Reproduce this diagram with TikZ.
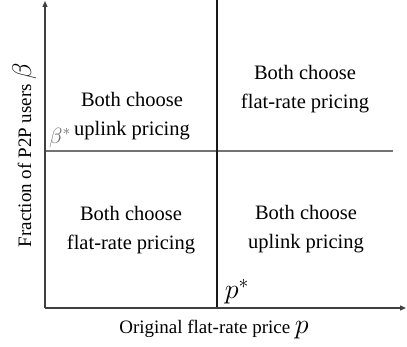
\RequirePackage{fix-cm}
\documentclass[tikz,border=0pt]{standalone}
\usepackage{fontspec}
\setmainfont{Liberation Serif}
\usetikzlibrary{arrows.meta}
\begin{document}
\begin{tikzpicture}[x=1pt,y=-1pt,
  axis/.style={line width=1.2pt,draw=black!75,-{Triangle[length=6pt,width=5pt]}},
  divline/.style={line width=1.1pt},
  region/.style={align=center,font=\fontsize{20.5}{29}\selectfont,inner sep=0pt},
  axlabel/.style={font=\fontsize{19}{22}\selectfont,inner sep=0pt}]
\useasboundingbox (0,0) rectangle (407,347);
\coordinate (O) at (45,308);
\coordinate (ytip) at (45,1);
\coordinate (xtip) at (406,308);
\coordinate (vtop) at (217,0);
\coordinate (vbot) at (217,308);
\coordinate (hleft) at (45,151);
\coordinate (hright) at (393,151);
\draw[divline,draw=black!55] (hleft) -- (hright);
\draw[divline,draw=black!90] (vtop) -- (vbot);
\draw[axis] (O) -- (ytip);
\draw[axis] (O) -- (xtip);
\node[region] (tl) at (132,116) {Both choose\\uplink pricing};
\node[region] (tr) at (305,89) {Both choose\\flat-rate pricing};
\node[region] (bl) at (131,230) {Both choose\\flat-rate pricing};
\node[region] (br) at (306,229) {Both choose\\uplink pricing};
\node[inner sep=0pt,font=\fontsize{22}{26}\selectfont,text=black!60] (bs) at (60,138) {$\beta^*$};
\node[inner sep=0pt,font=\fontsize{28}{32}\selectfont] (ps) at (237,292) {$p^*$};
\node[axlabel,anchor=base] (xl) at (214,334) {Original flat-rate price {\fontsize{28}{30}\selectfont$p$}};
\node[axlabel,rotate=90,anchor=base] (yl) at (31,155) {Fraction of P2P users {\fontsize{27}{30}\selectfont$\beta$}};
\end{tikzpicture}
\end{document}
